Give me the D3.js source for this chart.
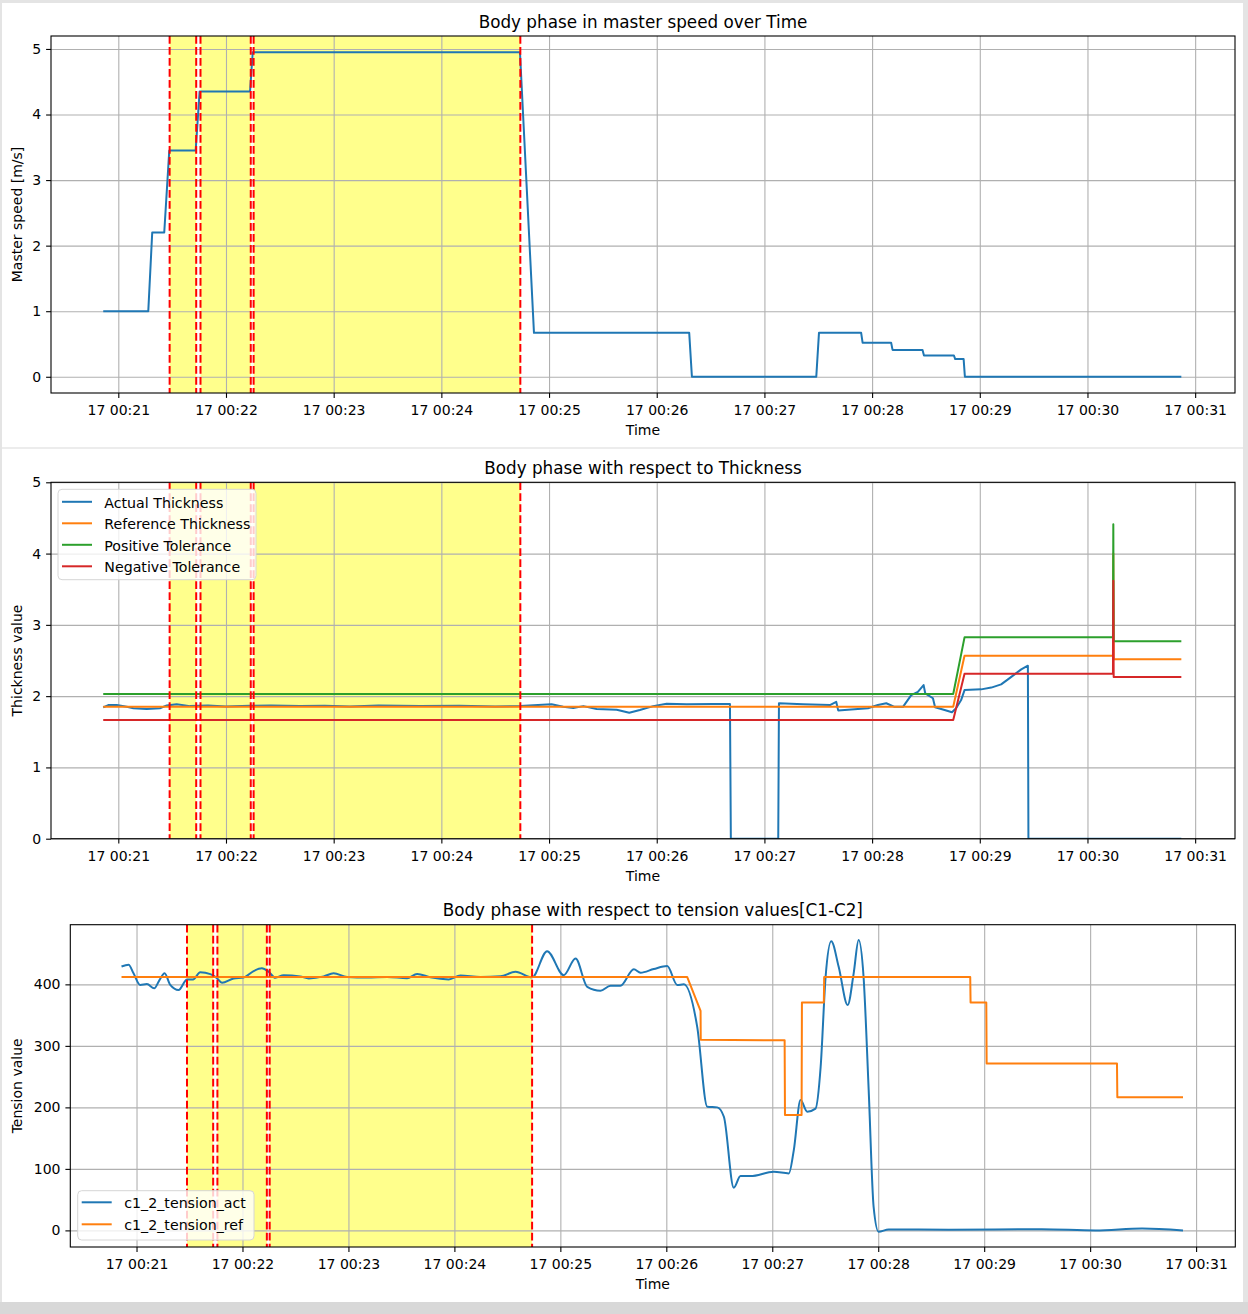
<!DOCTYPE html>
<html>
<head>
<meta charset="utf-8">
<script src="https://cdn.jsdelivr.net/npm/d3@7"></script>
<style>
  body { margin: 0; background: #e4e4e4; }
  svg { display: block; font-family: "DejaVu Sans", sans-serif; }
</style>
</head>
<body>
<svg id="chart" width="1248" height="1314"></svg>
<script>

// all times are seconds after "17 00:20:00"
const xTickLabels = ["17 00:21", "17 00:22", "17 00:23", "17 00:24", "17 00:25", "17 00:26",
	"17 00:27", "17 00:28", "17 00:29", "17 00:30", "17 00:31"];

// body phase boundaries (red dashed lines) and spans (yellow)
const phaseStart = [88.6, 105.8, 135.4];
const phaseEnd = [103.4, 133.8, 284.0];

const masterSpeed = [[51.6, 1.0], [76.7, 1.0], [78.9, 2.2], [85.6, 2.2], [88.4, 3.45], [103.1, 3.45],
	[105.3, 4.35], [133.4, 4.35], [134.9, 4.95], [283.8, 4.95], [291.6, 0.67], [378.1, 0.67],
	[379.6, 0], [448.9, 0], [450.4, 0.67], [473.9, 0.67], [474.7, 0.52], [490.6, 0.52],
	[491.4, 0.41], [508.1, 0.41], [508.9, 0.325], [525.6, 0.325], [526.3, 0.27], [531.0, 0.27],
	[531.7, 0], [652.3, 0]];

const actualThickness = [[51.6, 1.843], [54.4, 1.875], [59.1, 1.875], [64.7, 1.85], [68.4, 1.83],
	[75.8, 1.82], [83.2, 1.83], [87.0, 1.87], [92.5, 1.885], [100, 1.86], [110, 1.87], [120, 1.855],
	[133.4, 1.865], [145, 1.87], [161.2, 1.86], [175, 1.865], [189.1, 1.855], [205, 1.87],
	[228.1, 1.86], [250, 1.865], [270, 1.855], [283.8, 1.86], [301.4, 1.885], [307.9, 1.85],
	[313.5, 1.833], [319.1, 1.86], [326.5, 1.82], [337.7, 1.81], [344.7, 1.767], [350.6, 1.805],
	[358.0, 1.86], [365.5, 1.893], [376.7, 1.885], [391.5, 1.89], [400.8, 1.89], [401.3, 0],
	[427.7, 0], [428.1, 1.9], [441.6, 1.885], [456.5, 1.875], [460.0, 1.92], [461.1, 1.80],
	[470.2, 1.815], [477.7, 1.83], [483.2, 1.875], [487.9, 1.9], [492.5, 1.85], [497.2, 1.85],
	[501.8, 2.015], [505.5, 2.06], [508.7, 2.155], [509.6, 2.04], [513.9, 1.97], [515.1, 1.843],
	[520.4, 1.805], [524.5, 1.773], [526.8, 1.83], [529.6, 1.945], [531.5, 2.085], [540.8, 2.095],
	[546.4, 2.12], [551.9, 2.165], [555.7, 2.235], [559.4, 2.305], [563.1, 2.375], [566.8, 2.427],
	[567.1, 0], [652.3, 0]];

const referenceThickness = [[51.6, 1.85], [525.2, 1.85], [531.5, 2.567], [614.2, 2.567],
	[614.4, 4.0], [614.6, 2.516], [652.3, 2.516]];
const positiveTolerance = [[51.6, 2.03], [525.2, 2.03], [531.5, 2.825], [614.2, 2.825],
	[614.4, 4.41], [614.6, 2.77], [652.3, 2.77]];
const negativeTolerance = [[51.6, 1.665], [525.2, 1.665], [531.5, 2.314], [614.2, 2.314],
	[614.4, 3.62], [614.6, 2.27], [652.3, 2.27]];

const tensionAct = [[51.5, 429], [55.5, 432], [58.3, 418], [62.1, 399], [65.9, 400.5], [70.0, 393.5],
	[73.0, 407], [75.9, 418], [79.1, 399], [83.8, 390.7], [88.6, 408], [92.0, 408], [96.1, 419.5],
	[101.8, 416.7], [105.2, 411], [108.4, 402.6], [115.0, 409.7], [120.6, 411], [126.3, 421.6],
	[131.0, 426], [134.8, 420.5], [138.6, 410.7], [143.3, 415], [152.7, 413], [157.5, 409.7],
	[166.0, 413], [171.6, 418], [179.2, 412], [190.5, 411], [201.9, 412], [213.2, 410],
	[218.9, 417], [226.4, 411.4], [236.8, 408], [243.4, 414.6], [254.7, 412], [266.1, 413],
	[274.6, 420.5], [284.0, 411.4], [292.5, 454], [301.9, 415], [308.6, 442], [315.2, 396],
	[322.7, 389.6], [328.4, 397.7], [334.0, 397.7], [341.6, 424.4], [345.4, 419], [352.9, 425],
	[360.5, 429.8], [366.2, 399], [369.9, 400], [377.5, 331], [383.2, 201], [388.8, 200],
	[392.6, 184.7], [398.2, 69.3], [402.0, 88.3], [407.7, 88.3], [420.9, 95.3], [429.4, 92.7],
	[432.2, 130.6], [436.0, 212], [439.8, 193], [444.5, 198], [447.4, 266], [450.2, 412],
	[453.4, 470], [457.6, 428.6], [462.7, 366.3], [466.1, 418], [468.9, 472], [471.7, 412],
	[474.6, 228], [477.4, 38], [480.2, -2.3], [485.9, 1.6], [520, 1.2], [572.7, 2.0], [603, 0],
	[629.4, 3.2], [652.6, 0]];

const tensionRef = [[51.5, 412], [371.8, 412], [379.4, 357], [379.5, 310], [427.0, 309],
	[427.2, 187.5], [436.6, 187.5], [436.8, 370.7], [449.2, 370.7], [449.4, 412], [532.1, 412],
	[532.3, 370.7], [541.2, 370.7], [541.4, 271.5], [615.2, 271.5], [615.4, 216.3], [652.6, 216.3]];

const speedTicks = [0, 1, 2, 3, 4, 5];
const thicknessTicks = [0, 1, 2, 3, 4, 5];
const tensionTicks = [0, 100, 200, 300, 400];

const BLUE = "#1f77b4", ORANGE = "#ff7f0e", GREEN = "#2ca02c", RED = "#d62728";

const parseTick = d3.utcParse("%d %H:%M");
const t0 = parseTick("17 00:20");
const toDate = s => new Date(t0.getTime() + s * 1000);
const xTickDates = xTickLabels.map(parseTick);
const xDomain = [toDate(22.5), toDate(682.2)];

var svg = d3.select("#chart");

// screenshot background: three white figures on grey
svg.append("rect").attr("x", 0).attr("y", 1302).attr("width", 1248).attr("height", 12).attr("fill", "#d8d8d8");
svg.append("rect").attr("x", 2).attr("y", 3).attr("width", 1241).attr("height", 1299).attr("fill", "#ffffff");
svg.append("rect").attr("x", 2).attr("y", 447).attr("width", 1241).attr("height", 2).attr("fill", "#ececec");

function drawPanel(p, idx) {

	var g = svg.append("g");

	var x = d3.scaleUtc().domain(xDomain).range([p.left, p.right]);
	var y = d3.scaleLinear().domain(p.yDomain).range([p.bottom, p.top]);

	g.append("clipPath")
		.attr("id", "clip" + idx)
		.append("rect")
			.attr("x", p.left).attr("y", p.top)
			.attr("width", p.right - p.left).attr("height", p.bottom - p.top);

	// yellow body phase spans
	g.selectAll(".span")
		.data(phaseStart)
		.enter()
		.append("rect")
			.attr("x", d => x(toDate(d)))
			.attr("y", p.top)
			.attr("width", (d, i) => x(toDate(phaseEnd[i])) - x(toDate(d)))
			.attr("height", p.bottom - p.top)
			.attr("fill", "#ffff8c");

	// grid
	g.append("g")
		.attr("transform", "translate(0," + p.bottom + ")")
		.call(d3.axisBottom(x).tickValues(xTickDates).tickFormat("").tickSizeInner(-(p.bottom - p.top)).tickSizeOuter(0))
		.call(a => a.select(".domain").remove())
		.selectAll("line").attr("stroke", "#b0b0b0").attr("stroke-width", 1.1);

	g.append("g")
		.attr("transform", "translate(" + p.left + ",0)")
		.call(d3.axisLeft(y).tickValues(p.yTicks).tickFormat("").tickSizeInner(-(p.right - p.left)).tickSizeOuter(0))
		.call(a => a.select(".domain").remove())
		.selectAll("line").attr("stroke", "#b0b0b0").attr("stroke-width", 1.1);

	// data lines
	var plot = g.append("g").attr("clip-path", "url(#clip" + idx + ")");

	p.series.forEach(function(s) {
		plot.append("path")
			.datum(s.data)
			.attr("fill", "none")
			.attr("stroke", s.color)
			.attr("stroke-width", 2)
			.attr("stroke-linejoin", "round")
			.attr("d", d3.line()
				.curve(s.curve || d3.curveLinear)
				.x(d => x(toDate(d[0])))
				.y(d => y(d[1])));
	});

	// red dashed phase boundaries
	plot.selectAll(".vline")
		.data(phaseStart.concat(phaseEnd))
		.enter()
		.append("line")
			.attr("x1", d => x(toDate(d)))
			.attr("x2", d => x(toDate(d)))
			.attr("y1", p.top)
			.attr("y2", p.bottom)
			.attr("stroke", "#ff0000")
			.attr("stroke-width", 2)
			.attr("stroke-dasharray", "7.7,3.3");

	// spines
	g.append("rect")
		.attr("x", p.left).attr("y", p.top)
		.attr("width", p.right - p.left).attr("height", p.bottom - p.top)
		.attr("fill", "none")
		.attr("stroke", "#000")
		.attr("stroke-width", 1.1);

	// axes
	var xAxis = g.append("g")
		.attr("transform", "translate(0," + p.bottom + ")")
		.call(d3.axisBottom(x)
			.tickValues(xTickDates)
			.tickFormat((d, i) => xTickLabels[i])
			.tickSizeInner(4.9).tickSizeOuter(0).tickPadding(7.3));
	xAxis.select(".domain").remove();

	var yAxis = g.append("g")
		.attr("transform", "translate(" + p.left + ",0)")
		.call(d3.axisLeft(y)
			.tickValues(p.yTicks)
			.tickFormat(d3.format("d"))
			.tickSizeInner(4.9).tickSizeOuter(0).tickPadding(4.9));
	yAxis.select(".domain").remove();

	[xAxis, yAxis].forEach(function(a) {
		a.attr("font-family", null).attr("font-size", 14);
		a.selectAll("line").attr("stroke-width", 1.1);
		a.selectAll("text").attr("fill", "#000");
	});

	// titles and labels
	var cx = (p.left + p.right) / 2;
	g.append("text")
		.attr("x", cx).attr("y", p.top - 8.3)
		.attr("text-anchor", "middle")
		.attr("font-size", 16.8)
		.text(p.title);

	g.append("text")
		.attr("x", cx).attr("y", p.bottom + 42)
		.attr("text-anchor", "middle")
		.attr("font-size", 14)
		.text("Time");

	g.append("text")
		.attr("transform", "translate(21.7," + ((p.top + p.bottom) / 2) + ") rotate(-90)")
		.attr("text-anchor", "middle")
		.attr("font-size", 14)
		.text(p.ylabel);

	// legend
	if (p.legend) {
		var L = p.legend;
		g.append("rect")
			.attr("x", L.x).attr("y", L.y)
			.attr("width", L.w).attr("height", L.h)
			.attr("rx", 4)
			.attr("fill", "#ffffff").attr("fill-opacity", 0.8)
			.attr("stroke", "#d6d6d6").attr("stroke-width", 1);

		var rows = g.selectAll(".legrow")
			.data(p.series)
			.enter()
			.append("g");

		rows.append("line")
			.attr("x1", L.x + 5).attr("x2", L.x + 33)
			.attr("y1", (d, i) => L.rowY[i]).attr("y2", (d, i) => L.rowY[i])
			.attr("stroke", d => d.color)
			.attr("stroke-width", 2)
			.attr("stroke-linecap", "square");

		rows.append("text")
			.attr("x", L.textX)
			.attr("y", (d, i) => L.rowY[i] + 6)
			.attr("font-size", 14.2)
			.text(d => d.label);
	}
}

var panels = [
	{
		left: 51, right: 1235, top: 36, bottom: 393,
		title: "Body phase in master speed over Time",
		ylabel: "Master speed [m/s]",
		yDomain: [-0.2475, 5.1975], yTicks: speedTicks,
		series: [{data: masterSpeed, color: BLUE}]
	},
	{
		left: 51, right: 1235, top: 482.3, bottom: 838.7,
		title: "Body phase with respect to Thickness",
		ylabel: "Thickness value",
		yDomain: [0, 5], yTicks: thicknessTicks,
		series: [
			{data: actualThickness, color: BLUE, label: "Actual Thickness"},
			{data: referenceThickness, color: ORANGE, label: "Reference Thickness"},
			{data: positiveTolerance, color: GREEN, label: "Positive Tolerance"},
			{data: negativeTolerance, color: RED, label: "Negative Tolerance"}
		],
		legend: {x: 58, y: 489.3, w: 198, h: 90.4, rowY: [501.8, 523.3, 544.8, 566.3], textX: 104.3}
	},
	{
		left: 70.3, right: 1235.3, top: 924.7, bottom: 1247,
		title: "Body phase with respect to tension values[C1-C2]",
		ylabel: "Tension value",
		yDomain: [-27, 497], yTicks: tensionTicks,
		series: [
			{data: tensionAct, color: BLUE, label: "c1_2_tension_act", curve: d3.curveMonotoneX},
			{data: tensionRef, color: ORANGE, label: "c1_2_tension_ref"}
		],
		legend: {x: 77.7, y: 1190.7, w: 176.3, h: 49.3, rowY: [1202.3, 1224.3], textX: 124.3}
	}
];

panels.forEach(drawPanel);

</script>
</body>
</html>
